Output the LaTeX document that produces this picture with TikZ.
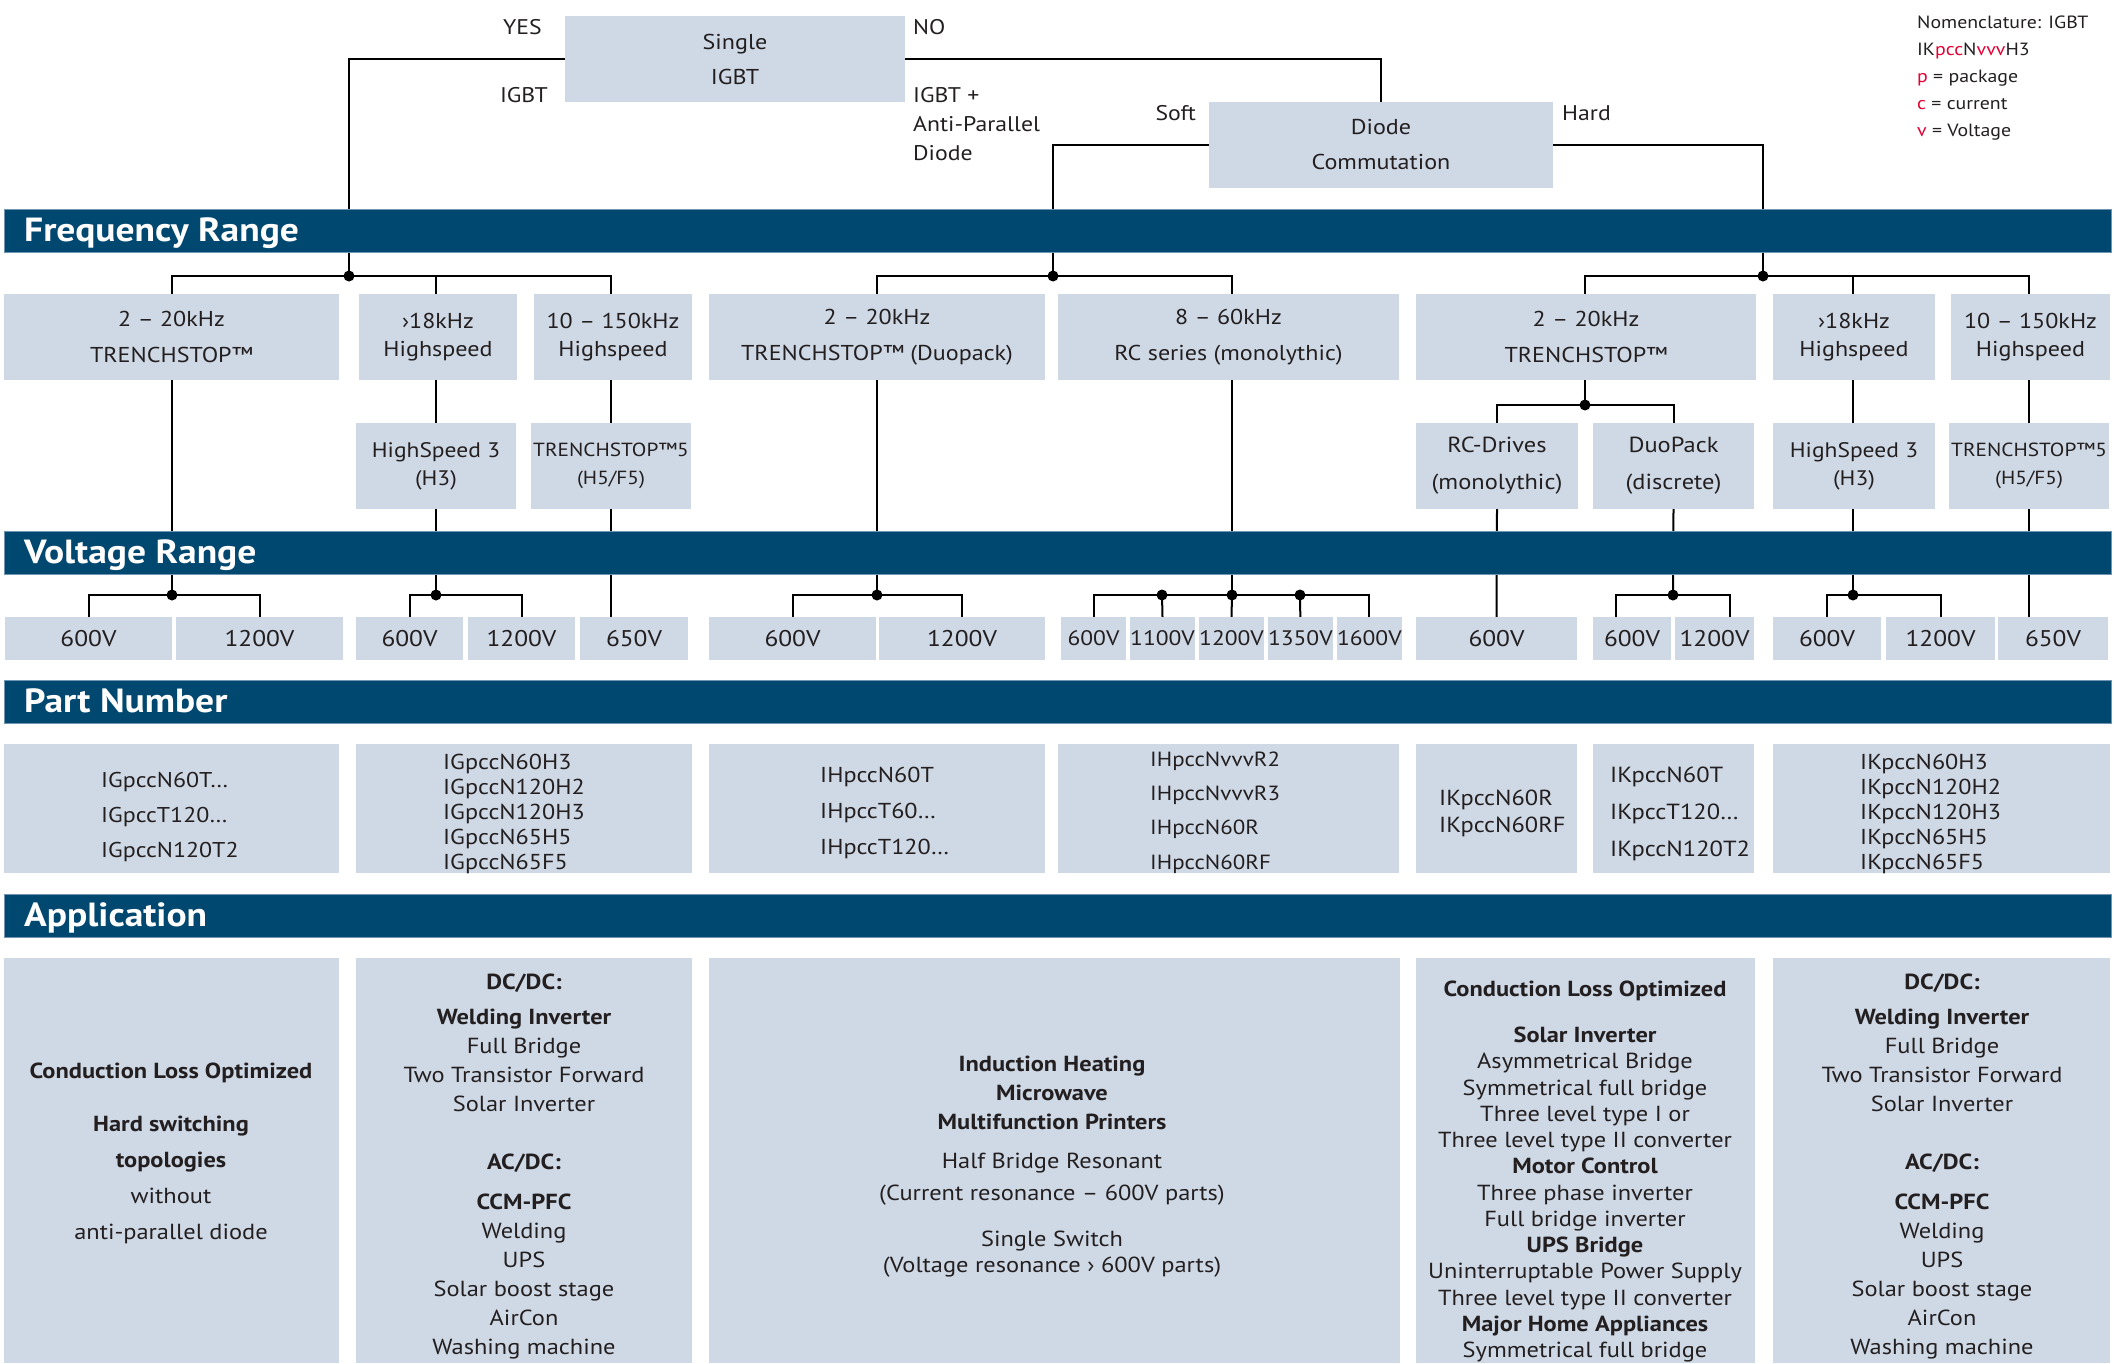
\documentclass[tikz,border=0pt]{standalone}
\usepackage{fontspec}
\setmainfont{PT Sans}[FakeStretch=1.12]
\usetikzlibrary{calc}
\pgfdeclarelayer{bg}
\pgfsetlayers{bg,main}
\definecolor{boxfill}{RGB}{207,217,229}
\definecolor{bandblue}{RGB}{0,72,112}
\definecolor{bandedge}{RGB}{110,150,180}
\definecolor{txt}{RGB}{35,31,32}
\definecolor{nomred}{RGB}{227,0,52}
\newcommand{\fsz}[2]{\fontsize{#1}{#2}\selectfont}
\tikzset{
 boxn/.style={fill=boxfill, inner sep=0pt, outer sep=0pt, anchor=north west, text=txt, align=center},
 bandn/.style={fill=bandblue, draw=bandedge, line width=1pt, inner sep=0pt, outer sep=0pt, anchor=north west, minimum width=2107pt, minimum height=43pt},
 bandtext/.style={text=white, font=\bfseries\fsz{33.5}{38}, anchor=base west, inner sep=0pt},
 conn/.style={draw=black, line width=2pt},
 jdot/.style={circle, fill=black, inner sep=0pt, minimum size=11pt},
 lbl/.style={text=txt, inner sep=0pt, font=\fsz{21.2}{29}},
 ptxt/.style={text=txt, inner sep=0pt, anchor=west, align=left},
 atxt/.style={text=txt, inner sep=0pt, align=center},
 vbox/.style={boxn, minimum height=43pt, font=\fsz{22.7}{27}},
}
\begin{document}
\begin{tikzpicture}[x=1pt,y=-1pt]
\useasboundingbox (0,0) rectangle (2114,1363);

% ---------- top decision boxes ----------
\node[boxn, minimum width=340pt, minimum height=86pt, font=\fsz{21.5}{35}] (sig) at (565,16) {Single\\IGBT};
\node[boxn, minimum width=344pt, minimum height=86pt, font=\fsz{21.5}{35}] (dc) at (1209,102) {Diode\\Commutation};
\node[lbl, anchor=east] (lyes) at (542,27) {YES};
\node[lbl, anchor=east] (ligbt) at (548,95) {IGBT};
\node[lbl, anchor=west] (lno) at (913,27) {NO};
\node[lbl, anchor=west, align=left] (lap) at (913,124) {IGBT +\\Anti-Parallel\\Diode};
\node[lbl, anchor=east] (lsoft) at (1196,113) {Soft};
\node[lbl, anchor=west] (lhard) at (1562,113) {Hard};
\node[anchor=west, align=left, inner sep=0pt, text=txt, font=\fsz{17.7}{27}] (nom) at (1917,78)
 {Nomenclature: IGBT\\IK\textcolor{nomred}{pcc}N\textcolor{nomred}{vvv}H3\\\textcolor{nomred}{p} = package\\\textcolor{nomred}{c} = current\\\textcolor{nomred}{v} = Voltage};

% ---------- bands ----------
\node[bandn] (bF) at (4,209) {};
\node[bandtext] (bFt) at (24,241) {Frequency Range};
\node[bandn] (bV) at (4,531) {};
\node[bandtext] (bVt) at (24,563) {Voltage Range};
\node[bandn] (bP) at (4,680) {};
\node[bandtext] (bPt) at (24,712) {Part Number};
\node[bandn] (bA) at (4,894) {};
\node[bandtext] (bAt) at (24,926) {Application};

% ---------- frequency boxes ----------
\node[boxn, minimum width=335pt, minimum height=86pt, font=\fsz{21.5}{36}] (fA) at (4,294) {2 – 20kHz\\TRENCHSTOP™};
\node[boxn, minimum width=158pt, minimum height=86pt, font=\fsz{21.5}{28}] (fB) at (359,294) {›18kHz\\Highspeed};
\node[boxn, minimum width=158pt, minimum height=86pt, font=\fsz{21.5}{28}] (fC) at (534,294) {10 – 150kHz\\Highspeed};
\node[boxn, minimum width=336pt, minimum height=86pt, font=\fsz{21.5}{36}] (fD) at (709,294) {2 – 20kHz\\TRENCHSTOP™ (Duopack)};
\node[boxn, minimum width=341pt, minimum height=86pt, font=\fsz{21.5}{36}] (fE) at (1058,294) {8 – 60kHz\\RC series (monolythic)};
\node[boxn, minimum width=340pt, minimum height=86pt, font=\fsz{21.5}{36}] (fF) at (1416,294) {2 – 20kHz\\TRENCHSTOP™};
\node[boxn, minimum width=162pt, minimum height=86pt, font=\fsz{21.5}{28}] (fG) at (1773,294) {›18kHz\\Highspeed};
\node[boxn, minimum width=159pt, minimum height=86pt, font=\fsz{21.5}{28}] (fH) at (1951,294) {10 – 150kHz\\Highspeed};

% ---------- sub boxes ----------
\node[boxn, minimum width=160pt, minimum height=86pt, font=\fsz{21}{28}] (sB) at (356,423) {HighSpeed 3\\(H3)};
\node[boxn, minimum width=160pt, minimum height=86pt, font=\fsz{19}{28}] (sC) at (531,423) {TRENCHSTOP™5\\(H5/F5)};
\node[boxn, minimum width=162pt, minimum height=86pt, font=\fsz{21.8}{37}] (sF1) at (1416,423) {RC-Drives\\(monolythic)};
\node[boxn, minimum width=161pt, minimum height=86pt, font=\fsz{21.8}{37}] (sF2) at (1593,423) {DuoPack\\(discrete)};
\node[boxn, minimum width=162pt, minimum height=86pt, font=\fsz{21}{28}] (sG) at (1773,423) {HighSpeed 3\\(H3)};
\node[boxn, minimum width=160pt, minimum height=86pt, font=\fsz{19}{28}] (sH) at (1949,423) {TRENCHSTOP™5\\(H5/F5)};

% ---------- voltage boxes ----------
\node[vbox, minimum width=167pt] (v11) at (5,617) {600V};
\node[vbox, minimum width=167pt] (v12) at (176,617) {1200V};
\node[vbox, minimum width=107pt] (v21) at (356,617) {600V};
\node[vbox, minimum width=107pt] (v22) at (468,617) {1200V};
\node[vbox, minimum width=108pt] (v23) at (580,617) {650V};
\node[vbox, minimum width=167pt] (v31) at (709,617) {600V};
\node[vbox, minimum width=166pt] (v32) at (879,617) {1200V};
\node[vbox, minimum width=65pt, font=\fsz{21}{26}] (v41) at (1061,617) {600V};
\node[vbox, minimum width=65pt, font=\fsz{21}{26}] (v42) at (1130,617) {1100V};
\node[vbox, minimum width=65pt, font=\fsz{21}{26}] (v43) at (1199,617) {1200V};
\node[vbox, minimum width=64pt, font=\fsz{21}{26}] (v44) at (1268,617) {1350V};
\node[vbox, minimum width=64pt, font=\fsz{21}{26}] (v45) at (1337,617) {1600V};
\node[vbox, minimum width=161pt] (v51) at (1416,617) {600V};
\node[vbox, minimum width=78pt] (v61) at (1593,617) {600V};
\node[vbox, minimum width=79pt] (v62) at (1675,617) {1200V};
\node[vbox, minimum width=108pt] (v71) at (1773,617) {600V};
\node[vbox, minimum width=109pt] (v72) at (1886,617) {1200V};
\node[vbox, minimum width=110pt] (v73) at (1998,617) {650V};

% ---------- part number boxes ----------
\node[boxn, minimum width=335pt, minimum height=129pt] (p1) at (4,744) {};
\node[boxn, minimum width=336pt, minimum height=129pt] (p2) at (356,744) {};
\node[boxn, minimum width=336pt, minimum height=129pt] (p3) at (709,744) {};
\node[boxn, minimum width=341pt, minimum height=129pt] (p4) at (1058,744) {};
\node[boxn, minimum width=161pt, minimum height=129pt] (p5) at (1416,744) {};
\node[boxn, minimum width=161pt, minimum height=129pt] (p6) at (1593,744) {};
\node[boxn, minimum width=337pt, minimum height=129pt] (p7) at (1773,744) {};
\node[ptxt, font=\fsz{21.4}{35}] (pt1) at (101,817) {IGpccN60T…\\IGpccT120…\\IGpccN120T2};
\node[ptxt, font=\fsz{21.6}{25}] (pt2) at (443,814) {IGpccN60H3\\IGpccN120H2\\IGpccN120H3\\IGpccN65H5\\IGpccN65F5};
\node[ptxt, font=\fsz{21.6}{36}] (pt3) at (820,813) {IHpccN60T\\IHpccT60…\\IHpccT120…};
\node[ptxt, font=\fsz{20.5}{34.3}] (pt4) at (1150,812.5) {IHpccNvvvR2\\IHpccNvvvR3\\IHpccN60R\\IHpccN60RF};
\node[ptxt, font=\fsz{21.8}{27}] (pt5) at (1439,813.5) {IKpccN60R\\IKpccN60RF};
\node[ptxt, font=\fsz{21.9}{37}] (pt6) at (1610,814) {IKpccN60T\\IKpccT120…\\IKpccN120T2};
\node[ptxt, font=\fsz{21.6}{25}] (pt7) at (1860,814) {IKpccN60H3\\IKpccN120H2\\IKpccN120H3\\IKpccN65H5\\IKpccN65F5};

% ---------- application boxes ----------
\node[boxn, minimum width=335pt, minimum height=405pt] (a1) at (4,958) {};
\node[boxn, minimum width=336pt, minimum height=405pt] (a2) at (356,958) {};
\node[boxn, minimum width=691pt, minimum height=405pt] (a3) at (709,958) {};
\node[boxn, minimum width=339pt, minimum height=405pt] (a4) at (1416,958) {};
\node[boxn, minimum width=337pt, minimum height=405pt] (a5) at (1773,958) {};
\node[atxt, font=\fsz{21.8}{36}] (at1) at (171,1153)
 {\textbf{Conduction Loss Optimized}\\[17pt]\textbf{Hard switching}\\\textbf{topologies}\\without\\anti-parallel diode};
\node[atxt, font=\fsz{21.8}{29}] (at2) at (524,1166.5)
 {\textbf{DC/DC:}\\[6pt]\textbf{Welding Inverter}\\Full Bridge\\Two Transistor Forward\\Solar Inverter\\[29pt]\textbf{AC/DC:}\\[11pt]\textbf{CCM-PFC}\\Welding\\UPS\\Solar boost stage\\AirCon\\Washing machine};
\node[atxt, font=\fsz{21.8}{29}] (at3) at (1052,1166.5)
 {\textbf{Induction Heating}\\\textbf{Microwave}\\\textbf{Multifunction Printers}\\[10pt]Half Bridge Resonant\\[3pt](Current resonance – 600V parts)\\[17pt]Single Switch\\[-3pt](Voltage resonance › 600V parts)};
\node[atxt, font=\fsz{21.8}{26.25}] (at4) at (1585,1171.5)
 {\textbf{Conduction Loss Optimized}\\[20pt]\textbf{Solar Inverter}\\Asymmetrical Bridge\\Symmetrical full bridge\\Three level type I or\\Three level type II converter\\\textbf{Motor Control}\\Three phase inverter\\Full bridge inverter\\\textbf{UPS Bridge}\\Uninterruptable Power Supply\\Three level type II converter\\\textbf{Major Home Appliances}\\Symmetrical full bridge};
\node[atxt, font=\fsz{21.8}{29}] (at5) at (1942,1166.5)
 {\textbf{DC/DC:}\\[6pt]\textbf{Welding Inverter}\\Full Bridge\\Two Transistor Forward\\Solar Inverter\\[29pt]\textbf{AC/DC:}\\[11pt]\textbf{CCM-PFC}\\Welding\\UPS\\Solar boost stage\\AirCon\\Washing machine};

% ---------- junction dots ----------
\node[jdot] (j1) at (349,276) {};
\node[jdot] (j2) at (1053,276) {};
\node[jdot] (j3) at (1763,276) {};
\node[jdot] (jF) at (1585,405) {};
\node[jdot] (jv1) at (172,595) {};
\node[jdot] (jv2) at (436,595) {};
\node[jdot] (jv3) at (877,595) {};
\node[jdot] (jv4) at (1232,595) {};
\node[jdot] (jv4a) at (1162,595) {};
\node[jdot] (jv4b) at (1300,595) {};
\node[jdot] (jv6) at (1673,595) {};
\node[jdot] (jv7) at (1853,595) {};

% ---------- connectors ----------
\begin{pgfonlayer}{bg}
\draw[conn] (sig.west) -| (j1.center);
\draw[conn] (sig.east) -| (dc.north);
\draw[conn] (dc.west) -| (j2.center);
\draw[conn] (dc.east) -| (j3.center);
% single IGBT tree
\draw[conn] (jv1.center) |- (j1.center) -| (sC.south);
\draw[conn] (j1.center) -| (jv2.center);
\draw[conn] (sC.south) -- (sC.south |- v23.north);
\draw[conn] (v11.north) |- (jv1.center) -| (v12.north);
\draw[conn] (v21.north) |- (jv2.center) -| (v22.north);
% soft commutation tree
\draw[conn] (jv3.center) |- (j2.center) -| (jv4.center);
\draw[conn] (v31.north) |- (jv3.center) -| (v32.north);
\draw[conn] (v41.north) |- (jv4.center) -| (v45.north);
\draw[conn] (jv4a.center) -- (v42.north);
\draw[conn] (jv4.center) -- (v43.north);
\draw[conn] (jv4b.center) -- (v44.north);
% hard commutation tree
\draw[conn] (jF.center) |- (j3.center) -| (sH.north);
\draw[conn] (j3.center) -| (jv7.center);
\draw[conn] (sF1.north) |- (jF.center) -| (sF2.north);
\draw[conn] (sF1.south) -- (v51.north);
\draw[conn] (sF2.south) -- (jv6.center);
\draw[conn] ([xshift=-16pt]v61.north) |- (jv6.center) -| ([xshift=15pt]v62.north);
\draw[conn] (v71.north) |- (jv7.center) -| (v72.north);
\draw[conn] (sH.south) -- (sH.south |- v73.north);
\end{pgfonlayer}
\end{tikzpicture}
\end{document}
